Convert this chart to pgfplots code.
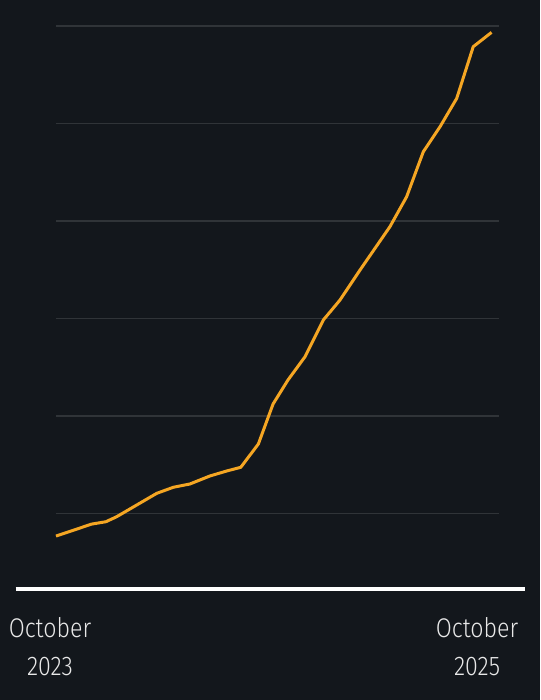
\documentclass[border=0pt]{standalone}
\usepackage{pgfplots}
\pgfplotsset{compat=1.18}
\usepackage{fontspec}
\setmainfont{Fira Sans}[UprightFont={* Light}, FakeStretch=0.86]

\definecolor{bg}{RGB}{19,23,28}
\definecolor{gridc}{RGB}{48,52,56}
\definecolor{lineorange}{RGB}{245,166,35}
\definecolor{labelc}{RGB}{232,232,232}

\begin{document}
\begin{tikzpicture}[x=1pt,y=1pt]
    \path[use as bounding box, fill=bg] (0,0) rectangle (540,700);
    \begin{axis}[
        at={(56pt,111pt)},
        anchor=south west,
        scale only axis,
        width=443pt,
        height=589pt,
        xmin=0, xmax=24.41,
        ymin=2.26, ymax=62.67,
        clip=false,
        axis line style={draw=none},
        xtick=\empty,
        ytick={10,20,30,40,50,60},
        yticklabels={},
        major tick length=0pt,
        ymajorgrids,
        grid style={gridc, line width=1.3pt},
        ]
        % monthly-ish readings, x in months since October 2023
        \addplot[lineorange, line width=3pt, line join=round, no markers] coordinates {
            (0.00,7.69) (1.97,8.92) (2.75,9.16) (3.34,9.67) (5.55,12.07)
            (6.46,12.69) (7.38,13.03) (8.48,13.85) (9.40,14.36) (10.18,14.74)
            (11.15,17.13) (11.96,21.23) (12.78,23.69) (13.72,26.08) (14.73,29.85)
            (15.65,31.90) (16.75,34.97) (18.40,39.42) (19.32,42.49) (20.24,47.11)
            (21.16,49.67) (22.08,52.58) (22.99,57.88) (24.00,59.35)
        };
        % x axis baseline
        \draw[white, line width=4.5pt] (axis cs:-2.23,2.26) -- (axis cs:25.84,2.26);
        \node[anchor=north, align=center, inner sep=0pt, text=labelc,
              font=\fontsize{27}{38}\selectfont, yshift=-28pt]
              at (axis cs:-0.33,2.26) {October\\2023};
        \node[anchor=north, align=center, inner sep=0pt, text=labelc,
              font=\fontsize{27}{38}\selectfont, yshift=-28pt]
              at (axis cs:23.2,2.26) {October\\2025};
    \end{axis}
\end{tikzpicture}
\end{document}
